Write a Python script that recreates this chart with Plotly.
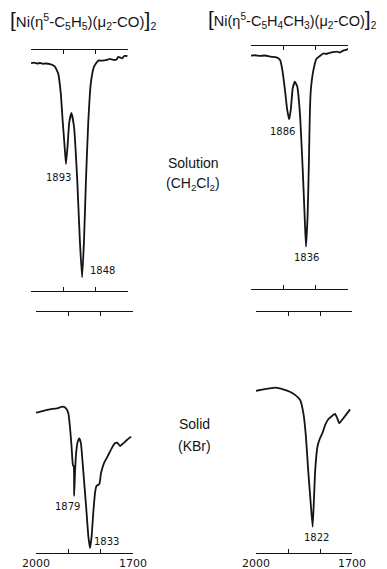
import plotly.graph_objects as go

W, H = 387, 569
OFF = 8  # page body margin offset of the rendered figure

# ---- data: wavenumber (cm-1) and relative transmittance (%) ----
tl_wn = [2000, 1991, 1981, 1972, 1963, 1954, 1941, 1926, 1916, 1908, 1902, 1896, 1892, 1887, 1882,
         1875, 1867, 1857, 1849, 1842, 1836, 1830, 1823, 1815, 1805, 1792, 1780, 1766, 1756, 1746,
         1735, 1731, 1725, 1718, 1712, 1702]
tl_t = [94.5, 94.8, 94.4, 94.6, 94.3, 94.4, 94.1, 93.1, 90.3, 82.2, 70.5, 59.9, 52.7, 59.9, 69.7,
        73.9, 68.2, 46.1, 21.2, 5.7, 21.2, 46.1, 69.7, 86.3, 93.1, 95.6, 95.6, 95.9, 96.3, 95.9,
        96.1, 97.1, 96.9, 96.5, 97.5, 97.5]

tr_wn = [2000, 1988, 1972, 1957, 1941, 1921, 1910, 1903, 1895, 1888, 1882, 1877, 1871, 1864, 1857,
         1848, 1840, 1834, 1830, 1825, 1821, 1818, 1815, 1807, 1797, 1787, 1776, 1768, 1756, 1746,
         1735, 1725, 1715, 1706, 1699]
tr_t = [96.0, 96.2, 95.9, 96.1, 95.6, 95.3, 94.2, 90.1, 81.9, 73.7, 69.8, 73.7, 82.6, 85.3, 83.3,
        70.9, 49.0, 29.8, 17.4, 29.8, 51.7, 72.3, 81.9, 90.1, 94.9, 95.9, 97.0, 96.7, 97.2, 97.5,
        97.7, 97.3, 98.1, 98.4, 98.8]

bl_wn = [2000, 1977, 1957, 1936, 1917, 1907, 1900, 1895, 1890, 1886, 1883, 1882, 1879, 1876, 1871,
         1866, 1861, 1854, 1845, 1838, 1833, 1828, 1823, 1817, 1813, 1804, 1799, 1790, 1779, 1766,
         1756, 1749, 1740, 1730, 1719, 1706]
bl_t = [58.2, 59.0, 59.6, 60.0, 60.7, 60.0, 58.0, 52.4, 44.1, 36.5, 35.8, 23.7, 34.4, 41.4, 46.2,
        47.6, 45.5, 34.4, 19.2, 6.8, 2.0, 6.8, 16.5, 25.4, 27.8, 28.6, 33.1, 37.2, 40.0, 43.4,
        45.5, 45.8, 44.4, 45.5, 46.9, 48.3]

br_wn = [2000, 1977, 1938, 1915, 1894, 1878, 1862, 1852, 1844, 1837, 1829, 1823, 1819, 1815, 1808,
         1800, 1792, 1784, 1774, 1753, 1746, 1740, 1727, 1706]
br_t = [67.3, 67.9, 68.6, 67.9, 66.9, 65.6, 63.5, 58.0, 48.3, 34.4, 20.6, 10.9, 22.0, 34.4, 44.1,
        47.6, 49.9, 53.1, 55.5, 57.7, 55.9, 53.8, 55.9, 59.6]

tick_vals = [2000, 1900, 1800, 1700]
tick_text = ["2000", "", "", "1700"]

peak_labels = {
    "tl": [("1893", 1916, 47.3), ("1848", 1780, 8.7)],
    "tr": [("1886", 1904, 65.0), ("1836", 1827, 12.8)],
    "bl": [("1879", 1904, 19.1), ("1833", 1783, 4.6)],
    "br": [("1822", 1812, 6.6)],
}

title_left = ('<span style="font-size:21px">[</span>Ni(η<sup>5</sup>-C<sub>5</sub>H<sub>5</sub>)'
              '(μ<sub>2</sub>-CO)<span style="font-size:21px">]</span><sub>2</sub>')
title_right = ('<span style="font-size:21px">[</span>Ni(η<sup>5</sup>-C<sub>5</sub>H<sub>4</sub>CH<sub>3</sub>)'
               '(μ<sub>2</sub>-CO)<span style="font-size:21px">]</span><sub>2</sub>')

FONT = "Liberation Sans, Arial, sans-serif"
NUMFONT = "DejaVu Sans, Liberation Sans, sans-serif"
INK = "#141414"

# panel frames in target pixels: (x0, x1, ytop, ybottom)
panels = {
    "tl": (31, 128, 50, 291),
    "tr": (251, 348, 46, 289),
    "bl": (36, 133, 312, 553),
    "br": (256, 352, 312, 553),
}
series = {"tl": (tl_wn, tl_t), "tr": (tr_wn, tr_t), "bl": (bl_wn, bl_t), "br": (br_wn, br_t)}


def px_x(px):
    return (px - OFF) / W


def px_y(py):
    return 1 - (py - OFF) / H


fig = go.Figure()
annotations = []
for i, key in enumerate(["tl", "tr", "bl", "br"], start=1):
    x0, x1, yt, yb = panels[key]
    xa = "xaxis" if i == 1 else f"xaxis{i}"
    ya = "yaxis" if i == 1 else f"yaxis{i}"
    xr = "x" if i == 1 else f"x{i}"
    yr = "y" if i == 1 else f"y{i}"
    wn, t = series[key]
    fig.add_trace(go.Scatter(x=wn, y=t, mode="lines", xaxis=xr, yaxis=yr,
                             line=dict(color=INK, width=1.8, shape="spline", smoothing=0.4),
                             hoverinfo="skip", showlegend=False))
    bottom = key in ("bl", "br")
    fig.update_layout(**{
        xa: dict(domain=[px_x(x0), px_x(x1)], range=[2000, 1700], anchor=yr,
                 showline=True, mirror="ticks", linecolor=INK, linewidth=1.4,
                 ticks="inside", ticklen=4, tickwidth=1.2, tickcolor=INK,
                 tickvals=tick_vals, ticktext=tick_text, showticklabels=bottom,
                 tickfont=dict(family=NUMFONT, size=11, color=INK), showgrid=False,
                 zeroline=False, fixedrange=True, automargin=False),
        ya: dict(domain=[px_y(yb), px_y(yt)], range=[0, 100], anchor=xr,
                 visible=False, fixedrange=True, automargin=False),
    })
    for txt, xv, yv in peak_labels[key]:
        annotations.append(dict(text=txt, x=xv, y=yv, xref=xr, yref=yr, showarrow=False,
                                font=dict(family=NUMFONT, size=10, color=INK)))

for txt, px, py, size in [(title_left, 83, 20, 15), (title_right, 292, 19, 14.5),
                          ("Solution", 193, 163, 14), ("(CH<sub>2</sub>Cl<sub>2</sub>)", 193, 184, 14),
                          ("Solid", 194, 424, 14), ("(KBr)", 194, 446, 14)]:
    annotations.append(dict(text=txt, x=px_x(px), y=px_y(py), xref="paper", yref="paper",
                            showarrow=False, xanchor="center", yanchor="middle",
                            font=dict(family=FONT, size=size, color=INK)))

fig.update_layout(width=W, height=H, autosize=False,
                  margin=dict(l=0, r=0, t=0, b=0, pad=0, autoexpand=False),
                  paper_bgcolor="white", plot_bgcolor="white",
                  annotations=annotations, showlegend=False)

fig.write_html("out.html", config={"displayModeBar": False, "responsive": False})
